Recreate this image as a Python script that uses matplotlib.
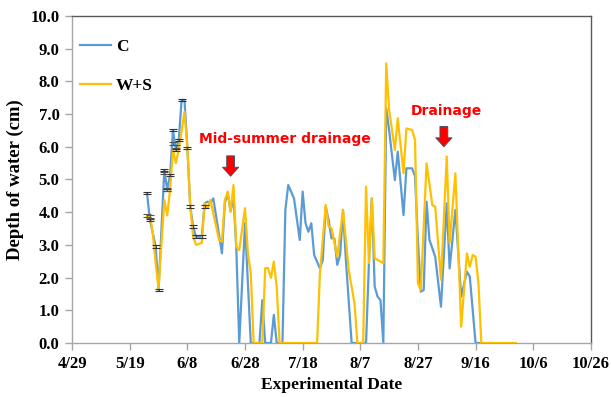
import matplotlib
matplotlib.use("Agg")
import matplotlib.pyplot as plt
import pandas as pd

YEAR = "2015"

c_dates = ["5/25","5/26","5/28","5/29","5/31","6/1","6/2","6/3","6/4","6/5","6/6","6/7","6/8","6/9",
           "6/10","6/11","6/13","6/14","6/15","6/16","6/17","6/18","6/20","6/21","6/22","6/23","6/24",
           "6/25","6/26","6/28","6/30","7/3","7/4","7/5","7/7","7/8","7/9","7/11","7/12","7/13","7/15",
           "7/17","7/18","7/19","7/20","7/21","7/22","7/24","7/25","7/26","7/27","7/28","7/29","7/30",
           "7/31","8/1","8/2","8/4","8/9","8/10","8/11","8/12","8/13","8/14","8/15","8/16","8/17",
           "8/19","8/20","8/22","8/23","8/25","8/26","8/27","8/28","8/29","8/30","8/31","9/2","9/4",
           "9/6","9/7","9/9","9/11","9/13","9/14","9/16","9/18"]
c_values = [4.58,3.76,2.95,1.62,5.29,4.68,5.14,6.51,5.90,6.20,7.43,7.43,5.96,4.17,
            3.56,3.25,3.25,4.27,4.32,4.28,4.42,3.86,2.74,4.28,4.58,4.02,4.47,
            2.84,0.0,3.66,0.0,0.0,1.31,0.0,0.0,0.86,0.0,0.0,4.07,4.83,4.42,
            3.15,4.63,3.66,3.40,3.66,2.69,2.28,2.54,4.17,3.76,3.20,3.20,2.39,
            2.69,4.07,2.54,0.0,0.0,2.44,4.42,1.72,1.42,1.31,0.0,7.18,6.51,
            4.98,5.85,3.91,5.34,5.34,5.09,3.15,1.57,1.62,4.32,3.15,2.64,1.11,
            4.27,2.28,4.07,1.42,2.18,2.03,0.0,0.0]

ws_dates = ["5/25","5/26","5/27","5/28","5/29","5/31","6/1","6/2","6/3","6/4","6/5","6/7","6/8","6/9",
            "6/10","6/11","6/13","6/14","6/15","6/16","6/18","6/19","6/20","6/21","6/22","6/23","6/24",
            "6/25","6/26","6/28","6/29","6/30","7/1","7/4","7/5","7/6","7/7","7/8","7/9","7/10","7/23",
            "7/24","7/26","7/27","7/28","7/30","8/1","8/3","8/5","8/6","8/8","8/9","8/10","8/11","8/12",
            "8/13","8/14","8/15","8/16","8/17","8/19","8/20","8/22","8/23","8/25","8/26","8/27","8/28",
            "8/30","9/1","9/2","9/4","9/6","9/7","9/9","9/11","9/13","9/14","9/15","9/16","9/17","9/18",
            "9/30"]
ws_values = [3.86,3.91,3.36,2.44,1.68,4.37,3.90,4.68,5.90,5.50,5.90,7.07,6.00,4.17,
             3.25,3.00,3.06,4.27,4.12,4.37,3.56,3.15,3.10,4.37,4.63,4.02,4.83,
             2.94,2.84,4.12,2.75,2.14,0.0,0.0,2.29,2.29,1.99,2.49,1.72,0.0,0.0,
             2.13,4.22,3.56,3.51,2.64,4.07,2.23,1.21,0.0,0.0,4.78,2.44,4.42,2.59,
             2.54,2.49,2.44,8.55,7.13,5.90,6.87,5.19,6.56,6.51,6.20,1.83,1.62,
             5.49,4.22,4.17,1.93,5.70,3.05,5.19,0.50,2.74,2.33,2.69,2.64,1.83,0.0,
             0.0]

# error bars shown on the early sampling period
err_dates = ["5/25","5/26","5/28","5/29","5/31","6/1","6/2","6/3","6/4","6/5","6/6","6/8","6/9",
             "6/10","6/11","6/13","6/14"]
err_values = [4.58,3.76,2.95,1.62,5.29,4.68,5.14,6.51,5.90,6.20,7.43,5.96,4.17,
              3.56,3.25,3.25,4.17]
err_sizes = [0.04] * len(err_dates)
ws_err_dates = ["5/25","5/26","5/31","6/1","6/3","6/4"]
ws_err_values = [3.90,3.86,5.20,4.70,6.10,6.00]
ws_err_sizes = [0.04] * len(ws_err_dates)

xtick_labels = ["4/29","5/19","6/8","6/28","7/18","8/7","8/27","9/16","10/6","10/26"]
ytick_values = [0,1,2,3,4,5,6,7,8,9,10]

def to_dt(lst):
    return pd.to_datetime([YEAR + "/" + s for s in lst], format="%Y/%m/%d")

cx = to_dt(c_dates)
wx = to_dt(ws_dates)
xt = to_dt(xtick_labels)

plt.rcParams["font.family"] = ["Liberation Serif", "DejaVu Serif"]

fig = plt.figure(figsize=(6.11, 3.97), dpi=100)
ax = fig.add_axes([0.118, 0.136, 0.849, 0.824])

blue = "#5b9bd5"
gold = "#ffc000"

ax.plot(cx, c_values, color=blue, lw=1.6, label="C", zorder=3)
ax.plot(wx, ws_values, color=gold, lw=1.6, label="W+S", zorder=4)
ax.errorbar(to_dt(err_dates), err_values, yerr=err_sizes, fmt="none",
            ecolor="#333333", elinewidth=0.6, capsize=2.6, capthick=0.8, zorder=5)
ax.errorbar(to_dt(ws_err_dates), ws_err_values, yerr=ws_err_sizes, fmt="none",
            ecolor="#555555", elinewidth=0.6, capsize=2.6, capthick=0.8, zorder=5)

ax.set_xlim(xt[0], xt[-1])
ax.set_ylim(0, 10)
ax.set_xticks(xt)
ax.set_xticklabels(xtick_labels, fontsize=12, fontweight="bold")
ax.set_yticks(ytick_values)
ax.set_yticklabels([f"{v:.1f}" for v in ytick_values], fontsize=12, fontweight="bold")

for s in ["left", "bottom"]:
    ax.spines[s].set_color("#a6a6a6")
    ax.spines[s].set_linewidth(1.0)
for s in ["top", "right"]:
    ax.spines[s].set_color("#595959")
    ax.spines[s].set_linewidth(1.0)
ax.tick_params(axis="both", direction="out", length=5, color="#a6a6a6", width=1.0, pad=4)

ax.set_xlabel("Experimental Date", fontsize=12.5, fontweight="bold", labelpad=4)
ax.set_ylabel("Depth of water (cm)", fontsize=13.5, fontweight="bold", labelpad=5)

leg = ax.legend(loc="upper left", bbox_to_anchor=(-0.014, 0.978), frameon=False,
                handlelength=1.75, labelspacing=1.35, handletextpad=0.3, borderaxespad=0.5,
                prop={"family": "Liberation Serif", "weight": "bold", "size": 12.5})

ann_font = {"family": ["DejaVu Sans"], "weight": "bold", "size": 10}
ax.text(to_dt(["7/12"])[0], 6.24, "Mid-summer drainage", color="red",
        ha="center", va="center", **ann_font)
ax.text(to_dt(["9/6"])[0], 7.09, "Drainage", color="red", ha="center", va="center", **ann_font)

arrow_props = dict(arrowstyle="simple,head_width=1.45,head_length=0.8,tail_width=0.7",
                   fc="red", ec="#44546a", lw=0.7, mutation_scale=8, shrinkA=0, shrinkB=0)
ax.annotate("", xy=(to_dt(["6/23"])[0], 5.1), xytext=(to_dt(["6/23"])[0], 5.72),
            arrowprops=arrow_props)
ax.annotate("", xy=(to_dt(["9/5"])[0], 6.0), xytext=(to_dt(["9/5"])[0], 6.62),
            arrowprops=arrow_props)

fig.savefig("out.png", dpi=100)
